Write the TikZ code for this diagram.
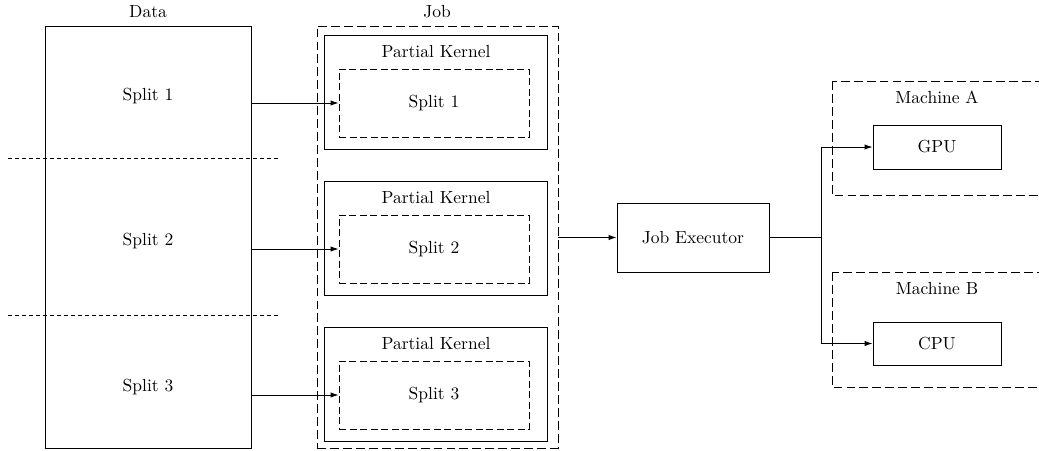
\documentclass[tikz,border=0pt]{standalone}
\usetikzlibrary{arrows.meta}
\newcommand\pxu{0.5714pt}
\begin{document}
\begin{tikzpicture}[x=0.5714pt, y=-0.5714pt,
  line width=0.5pt,
  box/.style={draw, inner sep=0pt, minimum width=#1},
  solidbox/.style={draw, inner sep=0pt},
  bigdash/.style={draw, dash pattern=on 5.1pt off 2.3pt},
  smalldash/.style={draw, dash pattern=on 4pt off 2pt},
  sepdash/.style={dash pattern=on 2.3pt off 1.7pt},
  lbl/.style={inner sep=0pt},
  arr/.style={-{Latex[length=4.5pt,width=3pt]}}]
\useasboundingbox (0,0) rectangle (1039,450);
\clip (0,0) rectangle (1039,450);

% Data column and its splits
\node[solidbox, minimum width={206*\pxu}, minimum height={422*\pxu}] (data) at (148,237) {};
\node[lbl] (datalbl) at (148,12) {Data};
\node[lbl] (ds1) at (148,96) {Split 1};
\node[lbl] (ds2) at (148,241) {Split 2};
\node[lbl] (ds3) at (148,387) {Split 3};
\draw[sepdash] (8,158) -- (278,158);
\draw[sepdash] (8,315) -- (278,315);

% Job container
\node[bigdash, inner sep=0pt, minimum width={241*\pxu}, minimum height={422*\pxu}] (job) at (437.5,237) {};
\node[lbl] (joblbl) at (437,12) {Job};

% Partial kernels with their splits
\foreach \i/\yc in {1/92, 2/238, 3/384} {
  \node[solidbox, minimum width={223*\pxu}, minimum height={114*\pxu}] (k\i) at (435.5,\yc) {};
  \node[lbl] (kl\i) at (436,\yc-40) {Partial Kernel};
  \node[smalldash, inner sep=0pt, minimum width={190*\pxu}, minimum height={68*\pxu}] (in\i) at (434,\yc+11) {Split \i};
  \draw[arr] (data.east |- in\i.west) -- (in\i.west);
}

% Executor
\node[solidbox, minimum width={152*\pxu}, minimum height={69*\pxu}] (exec) at (693,237.5) {Job Executor};
\draw[arr] (job.east |- exec.west) -- (exec.west);

% Machines
\draw[bigdash] (832,81) rectangle (1070,195);
\draw[bigdash] (832,272) rectangle (1070,387);
\node[lbl] (ma) at (937,97) {Machine A};
\node[lbl] (mb) at (937,289) {Machine B};
\node[solidbox, minimum width={128*\pxu}, minimum height={44*\pxu}] (gpu) at (937,147) {GPU};
\node[solidbox, minimum width={128*\pxu}, minimum height={43*\pxu}] (cpu) at (937,343.5) {CPU};

\coordinate (junc) at (821,237.5);
\draw (exec.east) -- (junc);
\draw[arr] (junc) |- (gpu.west);
\draw[arr] (junc) |- (cpu.west);
\end{tikzpicture}
\end{document}
